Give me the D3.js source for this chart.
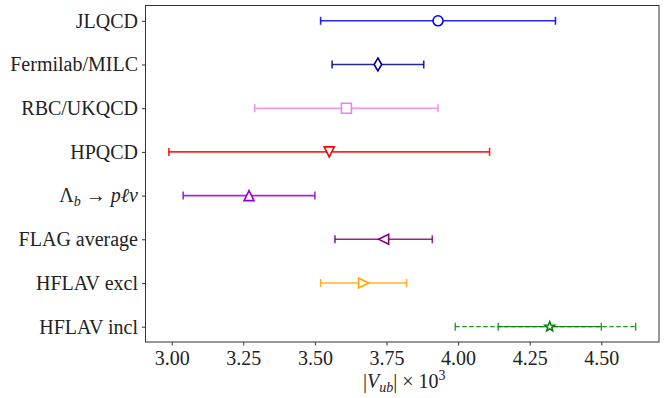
<!DOCTYPE html>
<html>
<head>
  <meta charset="UTF-8">
  <script src="https://d3js.org/d3.v7.min.js"></script>
  <style>
    body { margin: 0; }
    .serif { font-family: "Liberation Serif", Tinos, "Times New Roman"; }
  </style>
</head>
<body>
  <script>
    // data
    const labels = ["JLQCD", "Fermilab/MILC", "RBC/UKQCD", "HPQCD", "Lambda_b", "FLAG average", "HFLAV excl", "HFLAV incl"];
    const centers = [3.93, 3.72, 3.61, 3.55, 3.27, 3.74, 3.67, 4.32];
    const lows = [3.52, 3.56, 3.29, 2.99, 3.04, 3.57, 3.52, 4.14];
    const highs = [4.34, 3.88, 3.93, 4.11, 3.50, 3.91, 3.82, 4.50];
    const colors = ["#0000ff", "#00008b", "#ee82ee", "#ff0000", "#9400d3", "#800080", "#ffa500", "#008000"];
    const markers = ["circle", "thindiamond", "square", "triangledown", "triangleup", "triangleleft", "triangleright", "star"];
    // outer (dashed) range for the inclusive value
    const inclOuter = [3.99, 4.62];
    const xTicks = [3.00, 3.25, 3.50, 3.75, 4.00, 4.25, 4.50];

    const width = 665, height = 398;
    const margin = { top: 5.5, right: 6, bottom: 56, left: 145.5 };

    const svg = d3.select("body").append("svg")
      .attr("width", width)
      .attr("height", height)
      .attr("font-family", "Liberation Serif");

    const x = d3.scaleLinear()
      .domain([2.9085, 4.7015])
      .range([margin.left, width - margin.right]);

    const y = d3.scaleLinear()
      .domain([-0.35, labels.length - 1 + 0.35])
      .range([margin.top, height - margin.bottom]);

    // frame
    svg.append("rect")
      .attr("x", margin.left)
      .attr("y", margin.top)
      .attr("width", width - margin.right - margin.left)
      .attr("height", height - margin.bottom - margin.top)
      .attr("fill", "none")
      .attr("stroke", "#333")
      .attr("stroke-width", 1);

    // x axis
    const xAxis = svg.append("g")
      .attr("transform", `translate(0,${height - margin.bottom})`)
      .call(d3.axisBottom(x).tickValues(xTicks).tickFormat(d3.format(".2f")).tickSize(3.5).tickPadding(5))
      .attr("font-family", "Liberation Serif")
      .attr("font-size", 20);
    xAxis.select(".domain").remove();
    xAxis.selectAll(".tick line").attr("stroke", "#333");
    xAxis.selectAll(".tick text")
      .attr("class", "serif")
      .attr("fill", "#222");

    // y axis ticks only, names drawn below
    const yAxis = svg.append("g")
      .attr("transform", `translate(${margin.left},0)`)
      .call(d3.axisLeft(y).tickValues(d3.range(labels.length)).tickFormat("").tickSize(3.5));
    yAxis.select(".domain").remove();
    yAxis.selectAll(".tick line").attr("stroke", "#333");

    const nameG = svg.append("g");
    labels.forEach((name, i) => {
      const t = nameG.append("text")
        .attr("class", "serif")
        .attr("x", margin.left - 7.5)
        .attr("y", y(i) + 6.8)
        .attr("text-anchor", "end")
        .attr("fill", "#222")
        .attr("font-size", 20);
      if (name === "Lambda_b") {
        t.append("tspan").text("Λ");
        t.append("tspan").attr("font-style", "italic").attr("font-size", 14).attr("dy", 4).text("b");
        t.append("tspan").attr("dy", -4).text(" → ");
        t.append("tspan").attr("font-style", "italic").text("pℓν");
      } else {
        t.text(name);
      }
    });

    // x label
    const xl = svg.append("text")
      .attr("class", "serif")
      .attr("x", (margin.left + width - margin.right) / 2 + 2)
      .attr("y", 388)
      .attr("text-anchor", "middle")
      .attr("fill", "#222")
      .attr("font-size", 20);
    xl.append("tspan").text("|");
    xl.append("tspan").attr("font-style", "italic").text("V");
    xl.append("tspan").attr("font-style", "italic").attr("font-size", 14).attr("dy", 4).text("ub");
    xl.append("tspan").attr("dy", -4).text("| × 10");
    xl.append("tspan").attr("font-size", 14).attr("dy", -8).text("3");

    // error bars
    const capH = 4;
    const bars = svg.append("g");

    function errBar(i, lo, hi, color, dash, lw) {
      const g = bars.append("g")
        .attr("stroke", color)
        .attr("stroke-width", lw)
        .attr("stroke-opacity", 0.85);
      g.append("line")
        .attr("x1", x(lo)).attr("x2", x(hi))
        .attr("y1", y(i)).attr("y2", y(i))
        .attr("stroke-dasharray", dash);
      [lo, hi].forEach(v => {
        g.append("line")
          .attr("x1", x(v)).attr("x2", x(v))
          .attr("y1", y(i) - capH).attr("y2", y(i) + capH);
      });
    }

    const last = labels.length - 1;
    errBar(last, inclOuter[0], inclOuter[1], colors[last], "4.5,2.5", 1.3);
    labels.forEach((d, i) => {
      errBar(i, lows[i], highs[i], colors[i], null, i === last ? 1.3 : 1.6);
    });

    // marker shapes, size ~10px
    const m = 5;
    function markerPath(kind) {
      switch (kind) {
        case "thindiamond": return `M0,${-6.5}L${3.8},0L0,${6.5}L${-3.8},0Z`;
        case "square": return `M${-m},${-m}H${m}V${m}H${-m}Z`;
        case "triangleup": return `M0,${-m}L${m},${m}L${-m},${m}Z`;
        case "triangledown": return `M0,${m}L${m},${-m}L${-m},${-m}Z`;
        case "triangleleft": return `M${-m},0L${m},${-m}L${m},${m}Z`;
        case "triangleright": return `M${m},0L${-m},${-m}L${-m},${m}Z`;
        case "star": {
          let p = "";
          for (let k = 0; k < 10; k++) {
            const r = k % 2 === 0 ? 5 : 2.2;
            const a = -Math.PI / 2 + k * Math.PI / 5;
            p += (k === 0 ? "M" : "L") + (r * Math.cos(a)).toFixed(2) + "," + (r * Math.sin(a)).toFixed(2);
          }
          return p + "Z";
        }
        default: return d3.arc()({ innerRadius: 0, outerRadius: m, startAngle: 0, endAngle: 2 * Math.PI });
      }
    }

    svg.append("g").selectAll("path")
      .data(centers)
      .join("path")
      .attr("transform", (d, i) => `translate(${x(d)},${y(i)})`)
      .attr("d", (d, i) => markerPath(markers[i]))
      .attr("fill", "#fff")
      .attr("stroke", (d, i) => colors[i])
      .attr("stroke-width", 1.6);
  </script>
</body>
</html>
